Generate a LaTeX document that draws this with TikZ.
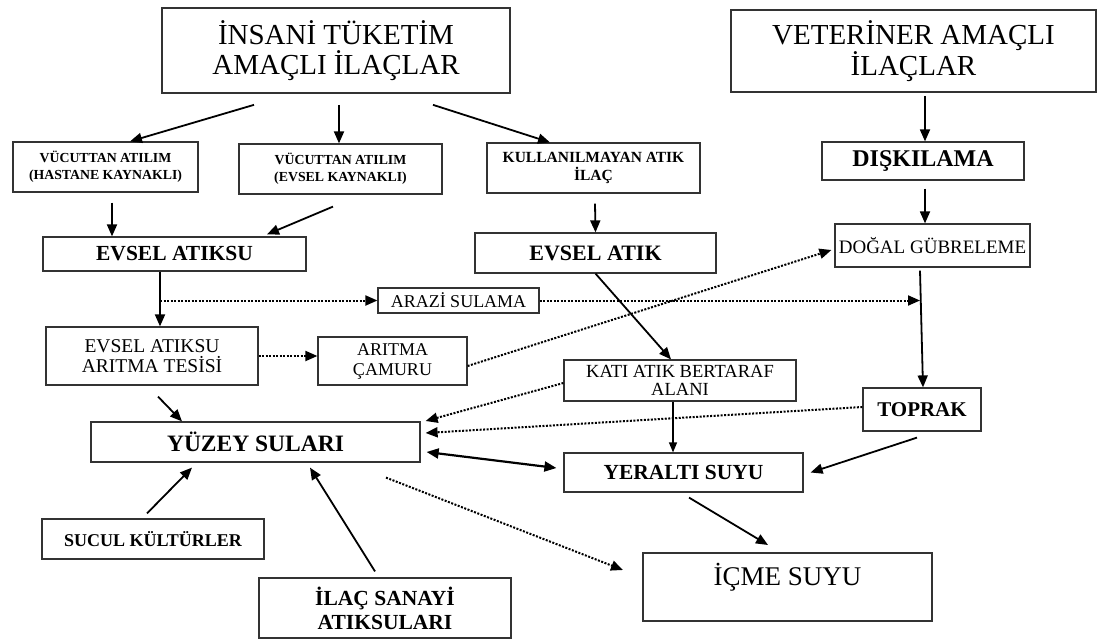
\documentclass[tikz,border=0pt]{standalone}
\usepackage{fontspec}
\setmainfont{Liberation Serif}
\usetikzlibrary{arrows.meta}

\begin{document}
\begin{tikzpicture}[x=1pt,y=-1pt,
    box/.style={draw=black!80,line width=1.2pt,inner sep=0pt,align=center},
    arr/.style={line width=1.8pt,-{Triangle[length=12pt,width=10pt]}},
    dotarr/.style={line width=2pt,dash pattern=on 2pt off 1.5pt,-{Triangle[length=12pt,width=10pt]}}]

    \useasboundingbox (0,0) rectangle (1099,639);

    % Kaynaklar
    \node[box,line width=1.7pt,minimum width=348pt,minimum height=85pt,font=\fontsize{29}{30}\selectfont] (ins) at (336,50.5) {İNSANİ TÜKETİM\\AMAÇLI İLAÇLAR};
    \node[box,line width=1.7pt,minimum width=365pt,minimum height=82pt,font=\fontsize{29}{30}\selectfont] (vet) at (913.5,51) {VETERİNER AMAÇLI\\İLAÇLAR};

    % Ara basamaklar
    \node[box,minimum width=185pt,minimum height=50pt,font=\bfseries\fontsize{13.8}{17}\selectfont] (hast) at (105.5,167) {VÜCUTTAN ATILIM\\(HASTANE KAYNAKLI)};
    \node[box,minimum width=203pt,minimum height=50pt,font=\bfseries\fontsize{13.8}{17}\selectfont] (evk) at (340.5,169) {VÜCUTTAN ATILIM\\(EVSEL KAYNAKLI)};
    \node[box,minimum width=213pt,minimum height=50pt,font=\bfseries\fontsize{15.5}{18}\selectfont] (kul) at (593.5,168) {KULLANILMAYAN ATIK\\İLAÇ};
    \node[box,minimum width=202pt,minimum height=38pt,font=\bfseries\fontsize{24}{26}\selectfont] (dis) at (923,161) {DIŞKILAMA};
    \node[box,minimum width=263pt,minimum height=34pt,font=\bfseries\fontsize{21.5}{23}\selectfont] (eva) at (174.5,254) {EVSEL ATIKSU};
    \node[box,minimum width=241pt,minimum height=40pt,font=\bfseries\fontsize{22}{24}\selectfont] (eat) at (595.5,253) {EVSEL ATIK};
    \node[box,minimum width=195pt,minimum height=43pt,font=\fontsize{19}{21}\selectfont] (dog) at (932.5,245.5) {DOĞAL GÜBRELEME};
    \node[box,minimum width=161pt,minimum height=25pt,font=\fontsize{18}{20}\selectfont] (ara) at (458.5,300.5) {ARAZİ SULAMA};
    \node[box,minimum width=212pt,minimum height=58pt,font=\fontsize{19.5}{20}\selectfont] (tes) at (152,356) {EVSEL ATIKSU\\ARITMA TESİSİ};
    \node[box,minimum width=149pt,minimum height=48pt,font=\fontsize{18}{20}\selectfont] (cam) at (392.5,361) {ARITMA\\ÇAMURU};
    \node[box,minimum width=232pt,minimum height=41pt,font=\fontsize{18.5}{18}\selectfont] (kat) at (680,380.5) {KATI ATIK BERTARAF\\ALANI};
    \node[box,minimum width=118pt,minimum height=43pt,font=\bfseries\fontsize{21}{23}\selectfont] (top) at (922,409.5) {TOPRAK};

    % Sular
    \node[box,minimum width=329pt,minimum height=40pt,font=\bfseries\fontsize{23.5}{25}\selectfont] (yuz) at (255.5,442) {YÜZEY SULARI};
    \node[box,minimum width=239pt,minimum height=39pt,font=\bfseries\fontsize{21.5}{23}\selectfont] (yer) at (683.5,472.5) {YERALTI SUYU};
    \node[box,minimum width=222pt,minimum height=40pt,font=\bfseries\fontsize{18}{20}\selectfont] (suc) at (153,539) {SUCUL KÜLTÜRLER};
    \node[box,minimum width=252pt,minimum height=60pt,font=\bfseries\fontsize{21.5}{24}\selectfont] (san) at (385,608) {İLAÇ SANAYİ\\ATIKSULARI};
    \node[box,line width=2pt,minimum width=289pt,text height=32pt,text depth=36pt,font=\fontsize{27}{29}\selectfont] (icm) at (787.5,587) {İÇME SUYU};

    % Ara noktalar
    \coordinate (j1) at ([xshift=-14.5pt]eva.south);
    \coordinate (j2) at ([xshift=-12.5pt,yshift=-3pt]dog.south);

    % Oklar
    \draw[arr] ([xshift=-82pt,yshift=-11pt]ins.south) -- ([xshift=24.5pt]hast.north);
    \draw[arr] ([xshift=3pt,yshift=-11pt]ins.south) -- ([xshift=-1.5pt]evk.north);
    \draw[arr] ([xshift=97pt,yshift=-11pt]ins.south) -- ([xshift=-43.5pt]kul.north);
    \draw[arr] ([xshift=11.5pt,yshift=-3pt]vet.south) -- ([xshift=2pt]dis.north);
    \draw[arr] ([xshift=2pt,yshift=-8pt]dis.south) -- ([xshift=-7.5pt]dog.north);
    \draw[arr] ([xshift=6.5pt,yshift=-10pt]hast.south) -- ([xshift=-62.5pt]eva.north);
    \draw[arr] ([xshift=-7.5pt,yshift=-12pt]evk.south) -- ([xshift=92.5pt,yshift=2pt]eva.north);
    \draw[arr] ([xshift=1.5pt,yshift=-10pt]kul.south) -- (eat.north);
    \draw[arr] (j1) -- ([xshift=8pt]tes.north);
    \draw[arr] ([xshift=6pt,yshift=-11pt]tes.south) -- ([xshift=-73.5pt]yuz.north);
    \draw[arr] (eat.south) -- ([xshift=-9pt]kat.north);
    \draw[arr] (j2) -- ([xshift=1pt]top.north);
    \draw[line width=1.2pt,-{Triangle[length=10pt,width=8pt]}] ([xshift=-7pt]kat.south) -- ([xshift=-10.5pt]yer.north);
    \draw[arr] ([xshift=-5pt,yshift=-6pt]top.south) -- ([xshift=7pt]yer.east);
    \draw[arr] ([xshift=5.5pt,yshift=-5pt]yer.south) -- ([xshift=-19.5pt,yshift=7pt]icm.north);
    \draw[line width=2.2pt,{Triangle[length=12pt,width=10pt]}-{Triangle[length=12pt,width=10pt]}] ([xshift=6pt,yshift=-10pt]yuz.east) -- ([xshift=-7pt,yshift=4.5pt]yer.west);
    \draw[arr] ([xshift=-6pt,yshift=5pt]suc.north) -- ([xshift=-63.5pt,yshift=-5pt]yuz.south);
    \draw[arr] ([xshift=-10pt,yshift=6pt]san.north) -- ([xshift=54.5pt,yshift=-5pt]yuz.south);

    % Noktali oklar
    \draw[dotarr] (j1 |- ara.west) -- (ara.west);
    \draw[dotarr] (ara.east) -- (ara.east -| j2);
    \draw[dotarr] (tes.east) -- (tes.east -| cam.west);
    \draw[dotarr] ([yshift=-5pt]cam.east) -- ([xshift=-3pt,yshift=-4.5pt]dog.west);
    \draw[dotarr] ([yshift=-2.5pt]kat.west) -- ([xshift=5pt,yshift=21pt]yuz.east);
    \draw[dotarr] ([yshift=2.5pt]top.west) -- ([xshift=5pt,yshift=9pt]yuz.east);
    \draw[dotarr] ([xshift=130.5pt,yshift=-15pt]yuz.south) -- ([xshift=-19pt,yshift=17pt]icm.west);

\end{tikzpicture}
\end{document}
